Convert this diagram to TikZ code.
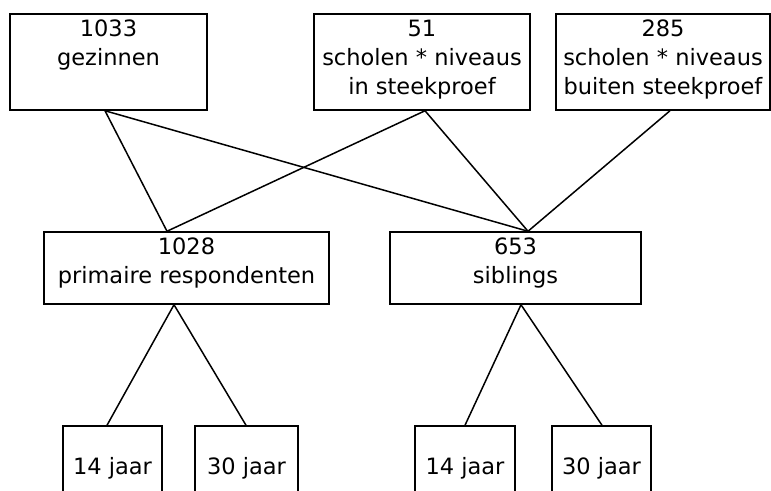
\documentclass[tikz,border=0pt]{standalone}
\usepackage{fontspec}
\setmainfont{DejaVu Sans}
\begin{document}
\begin{tikzpicture}[x=1pt,y=-1pt,
  box/.style={draw, line width=1.5pt, inner sep=0pt, rectangle},
  lbl/.style={font=\fontsize{22.5pt}{29pt}\selectfont, align=center, inner sep=0pt, anchor=base},
  conn/.style={line width=1.5pt}]
\useasboundingbox (0,0) rectangle (771,490);
\begin{scope}
\clip (0,0) rectangle (771,490);
% top row
\node[box, minimum width=197pt, minimum height=96pt] (b1) at (108.5,62) {};
\node[box, minimum width=216pt, minimum height=96pt] (b2) at (422,62) {};
\node[box, minimum width=214pt, minimum height=96pt] (b3) at (663,62) {};
\node[lbl] (t1) at ([yshift=-52pt]b1.north) {1033\\gezinnen};
\node[lbl] (t2) at ([yshift=-81pt]b2.north) {51\\scholen * niveaus\\in steekproef};
\node[lbl] (t3) at ([yshift=-81pt]b3.north) {285\\scholen * niveaus\\buiten steekproef};
% middle row
\node[box, minimum width=285pt, minimum height=72pt] (m1) at (186.5,268) {};
\node[box, minimum width=251pt, minimum height=72pt] (m2) at (515.5,268) {};
\node[lbl] (tm1) at ([yshift=-52pt]m1.north) {1028\\primaire respondenten};
\node[lbl] (tm2) at ([yshift=-52pt]m2.north) {653\\siblings};
% bottom row (cut off at the bottom)
\node[box, minimum width=99pt, minimum height=84pt] (c1) at (112.5,468) {};
\node[box, minimum width=103pt, minimum height=84pt] (c2) at (246.5,468) {};
\node[box, minimum width=100pt, minimum height=84pt] (c3) at (465,468) {};
\node[box, minimum width=99pt, minimum height=84pt] (c4) at (601.5,468) {};
\node[lbl] (tc1) at ([yshift=-49pt]c1.north) {14 jaar};
\node[lbl] (tc2) at ([yshift=-49pt]c2.north) {30 jaar};
\node[lbl] (tc3) at ([yshift=-49pt]c3.north) {14 jaar};
\node[lbl] (tc4) at ([yshift=-49pt]c4.north) {30 jaar};
% connectors
\draw[conn] ([xshift=-3.5pt]b1.south) -- ([xshift=-19.5pt]m1.north);
\draw[conn] ([xshift=-3.5pt]b1.south) -- ([xshift=12.5pt]m2.north);
\draw[conn] ([xshift=3pt]b2.south) -- ([xshift=-19.5pt]m1.north);
\draw[conn] ([xshift=3pt]b2.south) -- ([xshift=12.5pt]m2.north);
\draw[conn] ([xshift=7pt]b3.south) -- ([xshift=12.5pt]m2.north);
\draw[conn] ([xshift=-12.5pt]m1.south) -- ([xshift=-5.5pt]c1.north);
\draw[conn] ([xshift=-12.5pt]m1.south) -- ([xshift=-0.5pt]c2.north);
\draw[conn] ([xshift=5.5pt]m2.south) -- (c3.north);
\draw[conn] ([xshift=5.5pt]m2.south) -- ([xshift=0.5pt]c4.north);
\end{scope}
\end{tikzpicture}
\end{document}
